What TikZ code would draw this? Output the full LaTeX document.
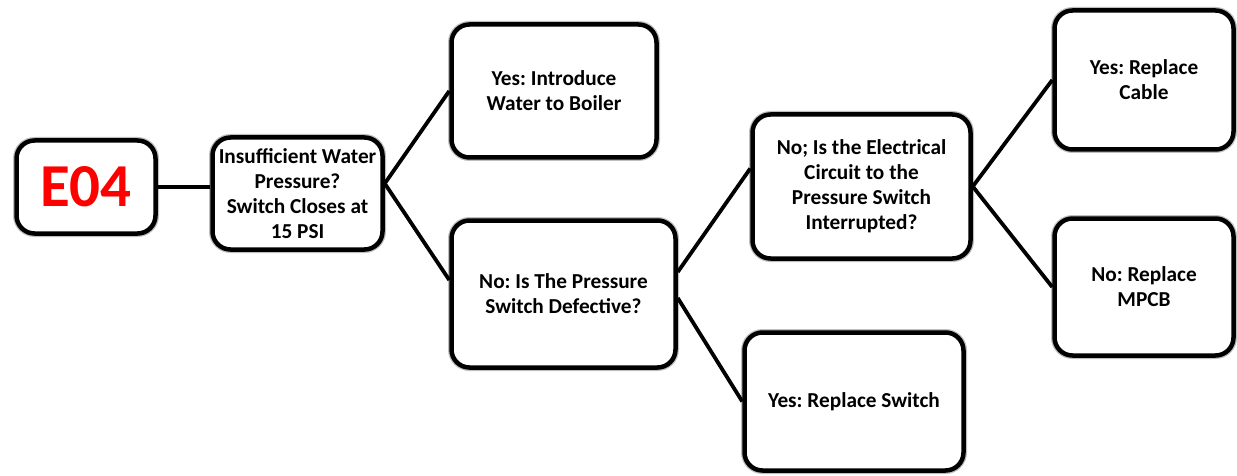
\documentclass[tikz,border=0pt]{standalone}
\usepackage{fontspec}
\setmainfont{Carlito}
\usepackage{tikz}
\usetikzlibrary{positioning}
\frenchspacing

\begin{document}
\begin{tikzpicture}[x=1pt,y=-1pt]
  \tikzset{
    box/.style={draw=black, fill=white, line width=4.5pt, rounded corners=18pt, align=center, inner sep=2pt,
      font=\fontsize{21.3}{25}\selectfont\bfseries, preaction={draw=black!25, line width=7pt}},
    code/.style={box, text=red, font=\fontsize{61}{64}\selectfont\bfseries},
    link/.style={black, line width=3.8pt}
  }
  \useasboundingbox (0,0) rectangle (1237,476);

  % - Error code and first check ---
  \node[code, minimum width=139pt, minimum height=93pt] (e04) at (86,187) {E04};
  \node[box, minimum width=170pt, minimum height=112pt] (q1) at (297.5,193.5) {Insufficient Water\\Pressure?\\Switch Closes at\\15 PSI};

  % - Second column ---
  \node[box, minimum width=205pt, minimum height=133pt] (yes1) at (554,91) {Yes: Introduce\\Water to Boiler};
  \node[box, minimum width=224pt, minimum height=147pt] (no1) at (563.5,294) {No: Is The Pressure\\Switch Defective?};

  % - Third column ---
  \node[box, minimum width=218pt, minimum height=144pt] (q2) at (861.5,186.5) {No; Is the Electrical\\Circuit to the\\Pressure Switch\\Interrupted?};
  \node[box, minimum width=219pt, minimum height=138pt] (yes2) at (854,401.5) {Yes: Replace Switch};

  % - Fourth column ---
  \node[box, minimum width=179pt, minimum height=139pt] (yes3) at (1144,80) {Yes: Replace\\Cable};
  \node[box, minimum width=179pt, minimum height=137pt] (no3) at (1144,287) {No: Replace\\MPCB};

  % - Connectors ---
  \draw[link] (e04.east) -- (e04.east -| q1.west);
  \draw[link] (yes1.west) -- ([yshift=10pt]q1.east) -- ([yshift=14pt]no1.west);
  \draw[link] ([yshift=22pt]no1.east) -- ([yshift=18pt]q2.west);
  \draw[link] ([yshift=-4pt]no1.east) -- (yes2.west);
  \draw[link] (yes3.west) -- (q2.east) -- (no3.west);

\end{tikzpicture}
\end{document}
